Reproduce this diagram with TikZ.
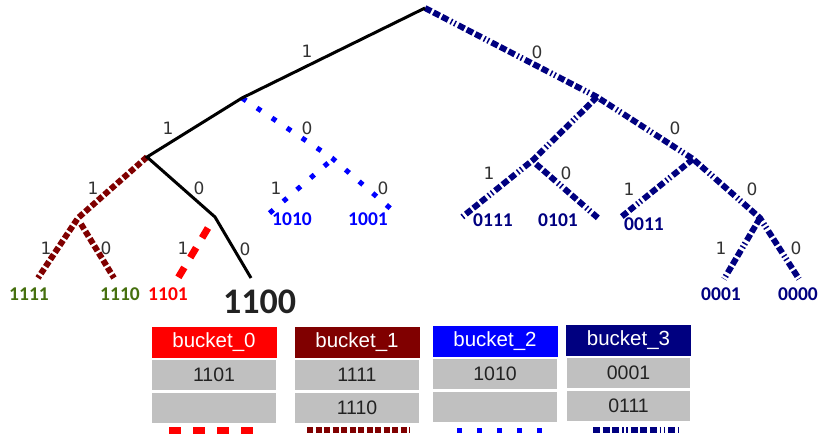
\documentclass[tikz,border=0pt]{standalone}
\usepackage{fontspec}
\setmainfont{Liberation Sans}
\newfontfamily\carlitofont{Carlito}
\newfontfamily\dejavufont{DejaVu Sans}
\definecolor{bnavy}{HTML}{000080}
\definecolor{bmaroon}{HTML}{800000}
\definecolor{leafgreen}{HTML}{46700F}
\definecolor{cellgray}{HTML}{C0C0C0}
\definecolor{labgray}{HTML}{333333}
\definecolor{textdark}{HTML}{222222}
\tikzset{
  solidedge/.style={black, line width=3pt, line join=miter},
  brownedge/.style={bmaroon, line width=6pt, dash pattern=on 6pt off 2.5pt},
  rededge/.style={red, line width=7pt, dash pattern=on 11.5pt off 11.5pt},
  blueedge/.style={blue, line width=5pt, dash pattern=on 5pt off 13pt},
  navyedge/.style={bnavy, line width=6pt, dash pattern=on 7pt off 2.5pt on 7pt off 2.5pt on 7pt off 3pt on 1.5pt off 2.5pt on 1.5pt off 3pt},
  elabel/.style={font=\dejavufont\fontsize{17}{19}\selectfont, text=labgray, inner sep=0pt},
  leaf/.style={font=\carlitofont\bfseries\fontsize{19.5}{21}\selectfont, inner sep=0pt},
  head/.style={minimum width=125pt, minimum height=31pt, inner sep=0pt, text=white, font=\fontsize{20.5}{22}\selectfont},
  cell/.style={fill=cellgray, draw=white, line width=1.5pt, minimum width=125pt, minimum height=31.5pt, inner sep=0pt, text=textdark, font=\fontsize{19.5}{22}\selectfont, anchor=north},
}
\begin{document}
\begin{tikzpicture}[x=1pt, y=-1pt]
\useasboundingbox (0,0) rectangle (821,437);
% tree points
\coordinate (R) at (425,8);
\coordinate (A) at (242,98);
\coordinate (B) at (147,157);
\coordinate (C) at (215,217);
\coordinate (L1100) at (251,278);
\coordinate (D) at (78,218);
\coordinate (L1111) at (38,278);
\coordinate (D2) at (81,224);
\coordinate (L1110) at (114,278);
\coordinate (S1101) at (208,228);
\coordinate (L1101) at (178,278);
\coordinate (N10) at (332,158);
\coordinate (L1001) at (398,215);
\coordinate (N10b) at (328,163);
\coordinate (L1010) at (265,217);
\coordinate (N0) at (597,97);
\coordinate (N01) at (533,160);
\coordinate (L0111) at (461,218);
\coordinate (N01b) at (536,164);
\coordinate (L0101) at (598,218);
\coordinate (N00) at (693,159);
\coordinate (L0011) at (620,218);
\coordinate (N000) at (760,218);
\coordinate (L0001) at (724,279);
\coordinate (L0000) at (799,279);
% edges
\draw[navyedge] (R) -- (N0) -- (N00) -- (N000) -- (L0000);
\draw[navyedge] (N0) -- (N01) -- (L0111);
\draw[navyedge] (N01b) -- (L0101);
\draw[navyedge] (N00) -- (L0011);
\draw[navyedge] (N000) -- (L0001);
\draw[blueedge] (A) -- (N10) -- (L1001);
\draw[blueedge] (N10b) -- (L1010);
\draw[brownedge] (B) -- (D) -- (L1111);
\draw[brownedge] (D2) -- (L1110);
\draw[rededge] (S1101) -- (L1101);
\draw[solidedge] (R) -- (A) -- (B) -- (C) -- (L1100);
% edge labels
\node[elabel] (e1) at (307,51) {1};
\node[elabel] (e2) at (537,52) {0};
\node[elabel] (e3) at (168,128) {1};
\node[elabel] (e4) at (307,128) {0};
\node[elabel] (e5) at (93,188) {1};
\node[elabel] (e6) at (199,188) {0};
\node[elabel] (e7) at (46,248) {1};
\node[elabel] (e8) at (106,248) {0};
\node[elabel] (e9) at (183,248) {1};
\node[elabel] (e10) at (245,249) {0};
\node[elabel] (e11) at (276,188) {1};
\node[elabel] (e12) at (383,188) {0};
\node[elabel] (e13) at (675,128) {0};
\node[elabel] (e14) at (489,173) {1};
\node[elabel] (e15) at (566,173) {0};
\node[elabel] (e16) at (629,189) {1};
\node[elabel] (e17) at (752,189) {0};
\node[elabel] (e18) at (721,248) {1};
\node[elabel] (e19) at (796,248) {0};
% leaf labels
\node[leaf, text=leafgreen] (t1111) at (29,294) {1111};
\node[leaf, text=leafgreen] (t1110) at (120,294) {1110};
\node[leaf, text=red] (t1101) at (168,294) {1101};
\node[font=\carlitofont\bfseries\fontsize{36}{40}\selectfont, text=textdark, inner sep=0pt] (t1100) at (259.5,302) {1100};
\node[leaf, text=blue] (t1010) at (292,219) {1010};
\node[leaf, text=blue] (t1001) at (368,219) {1001};
\node[leaf, text=bnavy] (t0111) at (493,220) {0111};
\node[leaf, text=bnavy] (t0101) at (558,220) {0101};
\node[leaf, text=bnavy] (t0011) at (644,224) {0011};
\node[leaf, text=bnavy] (t0001) at (721,294) {0001};
\node[leaf, text=bnavy] (t0000) at (798,294) {0000};
% buckets
\node[head, fill=red] (b0h) at (214,342.5) {bucket\_0};
\node[cell] (b0r1) at (b0h.south) {1101};
\node[cell] (b0r2) at (b0r1.south) {};
\node[head, fill=bmaroon] (b1h) at (357,342.5) {bucket\_1};
\node[cell] (b1r1) at (b1h.south) {1111};
\node[cell] (b1r2) at (b1r1.south) {1110};
\node[head, fill=blue] (b2h) at (495,341.5) {bucket\_2};
\node[cell] (b2r1) at (b2h.south) {1010};
\node[cell] (b2r2) at (b2r1.south) {};
\node[head, fill=bnavy] (b3h) at (628.5,340.5) {bucket\_3};
\node[cell] (b3r1) at (b3h.south) {0001};
\node[cell] (b3r2) at (b3r1.south) {0111};
% legend
\coordinate (g0a) at (169,430); \coordinate (g0b) at (253,430);
\coordinate (g1a) at (307,430); \coordinate (g1b) at (410,430);
\coordinate (g2a) at (457,430); \coordinate (g2b) at (542,430);
\coordinate (g3a) at (593,430); \coordinate (g3b) at (678,430);
\draw[rededge, dash pattern=on 11.5pt off 12.5pt] (g0a) -- (g0b);
\draw[brownedge] (g1a) -- (g1b);
\draw[blueedge, dash pattern=on 5pt off 15pt] (g2a) -- (g2b);
\draw[navyedge] (g3a) -- (g3b);
\end{tikzpicture}
\end{document}
